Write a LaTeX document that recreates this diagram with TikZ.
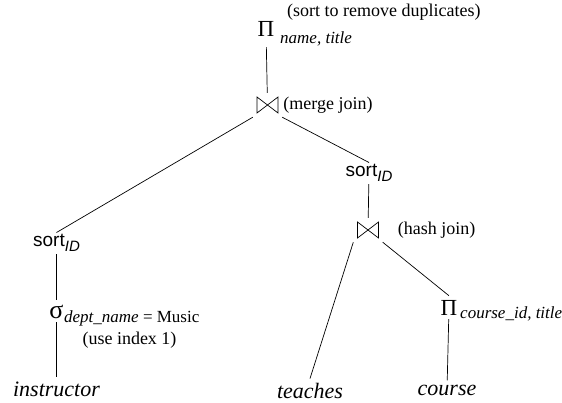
\documentclass[tikz,border=0pt]{standalone}
\usepackage{fontspec}
\setmainfont{Liberation Serif}
\setsansfont{Liberation Sans}
\usetikzlibrary{positioning}

\newcommand{\fsz}[1]{\fontsize{#1}{#1}\selectfont}
\newcommand{\sortby}[1]{sort\raisebox{-5pt}{\fsz{15}\itshape #1}}

\begin{document}
\begin{tikzpicture}[x=1pt, y=-1pt]
    % Styles
    \tikzstyle{op} = [inner sep=4pt, anchor=base, font=\fsz{23}]
    \tikzstyle{joinop} = [minimum width=29pt, minimum height=24pt, inner sep=0pt,
        path picture={\draw [line width=0.7pt]
            ([shift={(4pt,-4pt)}]path picture bounding box.north west) --
            ([shift={(4pt,4pt)}]path picture bounding box.south west) --
            ([shift={(-4pt,-4pt)}]path picture bounding box.north east) --
            ([shift={(-4pt,4pt)}]path picture bounding box.south east) -- cycle;}]
    \tikzstyle{sortop} = [inner sep=2pt, anchor=base, font=\sffamily\fsz{19}]
    \tikzstyle{rel} = [inner sep=4pt, anchor=base, font=\itshape\fsz{22}]
    \tikzstyle{sub} = [inner sep=0pt, anchor=base west, font=\fsz{17}]
    \tikzstyle{note} = [inner sep=0pt, anchor=west, font=\fsz{18}]
    \tikzstyle{line} = [draw, line width=0.7pt]

    \useasboundingbox (0,0) rectangle (562,403);

    % --- TOP: PROJECTION + MERGE JOIN ---
    \node [op] (proj) at (266,37) {Π};
    \node [sub] (projsub) at (280,44) {\itshape name, title};
    \node [note] (projnote) at (287,12) {(sort to remove duplicates)};
    \node [joinop] (mjoin) at (267.5,105) {};
    \node [note, right=1pt of mjoin] (mjnote) {(merge join)};

    % --- LEFT BRANCH ---
    \node [sortop] (sortL) at (56.5,247) {\sortby{ID}};
    \node [op, font=\fsz{26}] (sel) at (56.5,318) {σ};
    \node [sub] (selsub) at (64,323) {\textit{dept\_name} = Music};
    \node [note, anchor=center] (selnote) at (129.5,340) {(use index 1)};
    \node [rel] (instr) at (56.5,396) {instructor};

    % --- RIGHT BRANCH ---
    \node [sortop] (sortR) at (369,177) {\sortby{ID}};
    \node [joinop] (hjoin) at (368,230) {};
    \node [note, right=15pt of hjoin] (hjnote) {(hash join)};
    \node [rel] (teach) at (310,398) {teaches};
    \node [op] (projc) at (449,315) {Π};
    \node [sub] (projcsub) at (460,319) {\itshape course\_id, title};
    \node [rel] (course) at (447,395) {course};

    % --- CONNECTIONS ---
    \path [line, shorten <=6pt] (proj) -- (mjoin);
    \path [line] (mjoin.south west) -- (sortL.north);
    \path [line] (mjoin.south east) -- (sortR.north);
    \path [line] (sortL) -- (sel);
    \path [line] (sel) -- (instr);
    \path [line] (sortR) -- (hjoin);
    \path [line] (hjoin.south west) -- (teach.north);
    \path [line] (hjoin.south east) -- (projc.north);
    \path [line] (projc) -- (course);

\end{tikzpicture}
\end{document}
